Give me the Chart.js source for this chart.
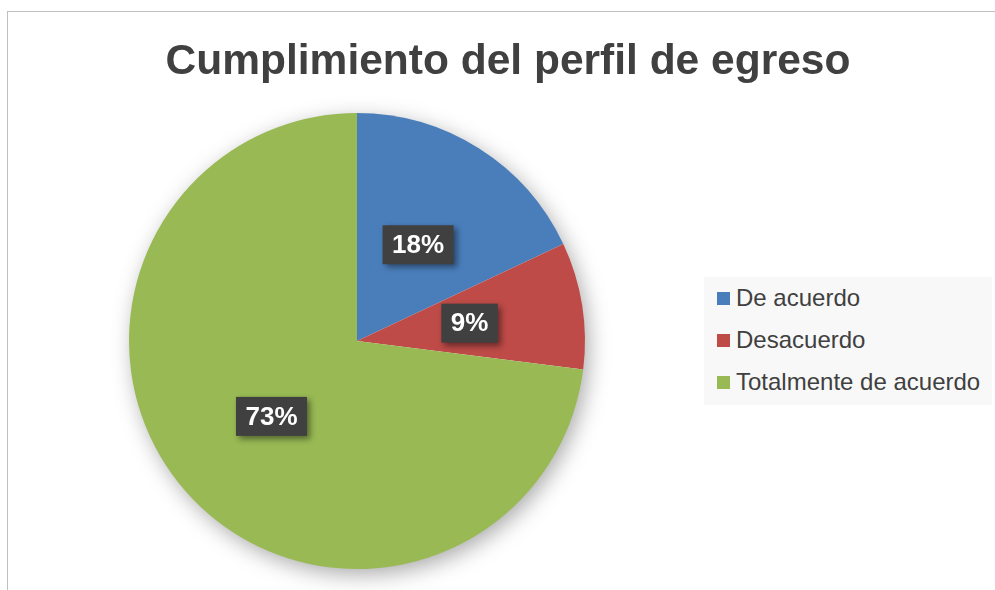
<!DOCTYPE html>
<html>
<head>
<meta charset="utf-8">
<script src="https://cdn.jsdelivr.net/npm/chart.js@4.4.1/dist/chart.umd.min.js"></script>
<style>
  body { margin: 0; background: #fff; }
  #wrap { position: relative; width: 995px; height: 590px; overflow: hidden; background: #fff;
          font-family: "Liberation Sans", Arial, sans-serif; }
  #frame { position: absolute; left: 7px; top: 11px; right: 0; bottom: 0;
           border-top: 1px solid #c0c0c0; border-left: 1px solid #c0c0c0; }
  #title { position: absolute; left: 21px; right: 0; top: 30px; text-align: center;
           font-size: 42.5px; font-weight: bold; color: #404040; line-height: 60px; }
  #legend { position: absolute; left: 704px; top: 277px; width: 288px; height: 128px; background: #f8f8f8; }
  .item { height: 42px; display: flex; align-items: center; font-size: 24px; color: #404040; }
  .box { width: 13px; height: 13px; margin-left: 13px; margin-right: 6px; }
  canvas { position: absolute; left: 0; top: 0; }
</style>
</head>
<body>
<div id="wrap">
  <div id="frame"></div>
  <canvas id="myChart" width="995" height="590"></canvas>
  <div id="title">Cumplimiento del perfil de egreso</div>
  <div id="legend"></div>
</div>
<script>
// chart data
const categories = ['De acuerdo', 'Desacuerdo', 'Totalmente de acuerdo'];
const values = [18, 9, 73];
const colors = ['#4a7ebb', '#be4b48', '#98b954'];

// legend built from the same arrays
const legend = document.getElementById('legend');
categories.forEach(function(name, i) {
  const row = document.createElement('div');
  row.className = 'item';
  row.innerHTML = '<span class="box" style="background:' + colors[i] + '"></span>' + name;
  legend.appendChild(row);
});

// soft shadow behind the whole pie
const pieShadow = {
  id: 'pieShadow',
  beforeDatasetsDraw(chart) {
    const arc = chart.getDatasetMeta(0).data[0];
    if (!arc) return;
    const ctx = chart.ctx;
    ctx.save();
    ctx.shadowColor = 'rgba(0,0,0,0.35)';
    ctx.shadowBlur = 22;
    ctx.shadowOffsetX = 4;
    ctx.shadowOffsetY = 6;
    ctx.fillStyle = '#ffffff';
    ctx.beginPath();
    ctx.arc(arc.x, arc.y, arc.outerRadius - 1, 0, Math.PI * 2);
    ctx.fill();
    ctx.restore();
  }
};

// dark label boxes with percentages
const pctLabels = {
  id: 'pctLabels',
  afterDatasetsDraw(chart) {
    const ctx = chart.ctx;
    const total = values.reduce(function(a, b) { return a + b; }, 0);
    chart.getDatasetMeta(0).data.forEach(function(arc, i) {
      const p = arc.getCenterPoint();
      const txt = Math.round(values[i] / total * 100) + '%';
      ctx.save();
      ctx.font = 'bold 26px "Liberation Sans", Arial, sans-serif';
      const w = ctx.measureText(txt).width + 19;
      const h = 39;
      ctx.shadowColor = 'rgba(0,0,0,0.45)';
      ctx.shadowBlur = 6;
      ctx.shadowOffsetX = 3;
      ctx.shadowOffsetY = 3;
      ctx.fillStyle = '#404040';
      ctx.fillRect(p.x - w / 2, p.y - h / 2, w, h);
      ctx.shadowColor = 'transparent';
      ctx.fillStyle = '#ffffff';
      ctx.textAlign = 'center';
      ctx.textBaseline = 'middle';
      ctx.fillText(txt, p.x, p.y + 1);
      ctx.restore();
    });
  }
};

const ctx = document.getElementById('myChart').getContext('2d');
new Chart(ctx, {
  type: 'pie',
  data: {
    labels: categories,
    datasets: [{
      data: values,
      backgroundColor: colors,
      borderWidth: 0
    }]
  },
  options: {
    responsive: false,
    animation: false,
    devicePixelRatio: 1,
    layout: { padding: { left: 129, right: 410, top: 113, bottom: 21 } },
    plugins: {
      legend: { display: false },
      title: { display: false },
      tooltip: { enabled: false }
    }
  },
  plugins: [pieShadow, pctLabels]
});
</script>
</body>
</html>
